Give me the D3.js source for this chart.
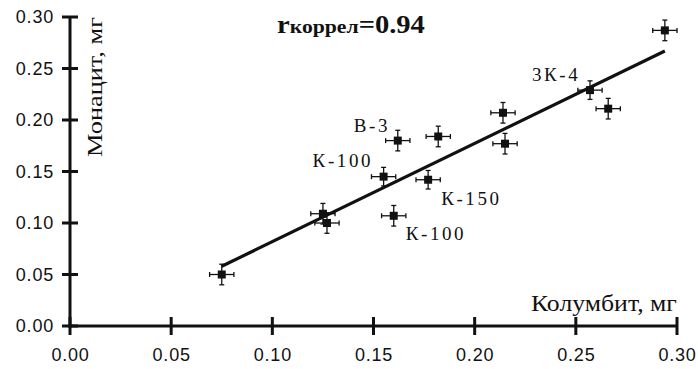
<!DOCTYPE html>
<html><head><meta charset="utf-8">
<script src="https://cdn.jsdelivr.net/npm/d3@7"></script>
<style>body{margin:0;background:#fff}svg{display:block}</style>
</head><body>
<script>
const colX = [0.075, 0.125, 0.127, 0.155, 0.162, 0.182, 0.214, 0.215, 0.257, 0.266, 0.294, 0.177, 0.160];
const monY = [0.050, 0.109, 0.100, 0.145, 0.180, 0.184, 0.207, 0.177, 0.229, 0.211, 0.287, 0.142, 0.107];
const errX = [0.006, 0.006, 0.006, 0.006, 0.006, 0.006, 0.006, 0.006, 0.006, 0.006, 0.006, 0.006, 0.006];
const errY = [0.010, 0.010, 0.010, 0.009, 0.010, 0.010, 0.010, 0.010, 0.009, 0.010, 0.010, 0.009, 0.010];
const fitX = [0.075, 0.294];
const fitY = [0.058, 0.267];
const tickVals = [0, 0.05, 0.10, 0.15, 0.20, 0.25, 0.30];
const labelText = ["К-100", "В-3", "К-150", "К-100", "3К-4"];
const labelPoint = [3, 4, 11, 12, 8];
const labelDx = [-71, -44, 13, 12, -58];
const labelDy = [-10, -9, 25, 24, -9];

const W = 698, H = 369;
const serif = "'Liberation Serif', 'Times New Roman', serif";
const svg = d3.select("body").append("svg").attr("width", W).attr("height", H);
const x = d3.scaleLinear().domain([0, 0.30]).range([70, 677]);
const y = d3.scaleLinear().domain([0, 0.30]).range([326, 17]);

function fitWidth(sel, ax, w) {
  const n = sel.node();
  const cur = n.getComputedTextLength ? n.getComputedTextLength() : n.getBBox().width;
  const s = cur > 0 ? w / cur : 1;
  const t = sel.attr("transform") || "";
  sel.attr("transform", `${t} translate(${ax},0) scale(${s},1) translate(${-ax},0)`);
}

// axes (labels only), axis lines and ticks drawn as filled rects from the same scales
const fmt = d3.format(".2f");
const gx = svg.append("g").attr("transform", `translate(0,${y(0)})`)
  .call(d3.axisBottom(x).tickValues(tickVals).tickFormat(fmt).tickSize(0).tickSizeOuter(0).tickPadding(22));
const gy = svg.append("g").attr("transform", `translate(${x(0)},0)`)
  .call(d3.axisLeft(y).tickValues(tickVals).tickFormat(fmt).tickSize(0).tickSizeOuter(0).tickPadding(16));
[gx, gy].forEach(g => {
  g.select(".domain").remove();
  g.selectAll("text").attr("font-family", "'Liberation Sans', Arial, sans-serif")
    .attr("font-size", 18).attr("fill", "#111").attr("letter-spacing", 0.8);
});
const ax = svg.append("g").attr("fill", "#111");
ax.append("rect").attr("x", x(0) - 1.5).attr("y", y(0.30)).attr("width", 3).attr("height", y(0) - y(0.30) + 1.5);
ax.append("rect").attr("x", x(0) - 1.5).attr("y", y(0) - 1.5).attr("width", x(0.30) - x(0) + 1.5).attr("height", 3);
ax.selectAll("rect.xt").data(tickVals).join("rect").attr("class", "xt")
  .attr("x", d => x(d) - 1.5).attr("y", y(0) - 9).attr("width", 3).attr("height", 18);
ax.selectAll("rect.yt").data(tickVals).join("rect").attr("class", "yt")
  .attr("x", x(0) - 8).attr("y", d => y(d) - 1.5).attr("width", 16).attr("height", 3);

// fit line
svg.append("line")
  .attr("x1", x(fitX[0])).attr("y1", y(fitY[0]))
  .attr("x2", x(fitX[1])).attr("y2", y(fitY[1]))
  .attr("stroke", "#111").attr("stroke-width", 3.2);

// points with error bars
const pts = colX.map((v, i) => ({x: v, y: monY[i], ex: errX[i], ey: errY[i]}));
const g = svg.append("g").attr("stroke", "#111").attr("stroke-width", 1.3);
pts.forEach(p => {
  const cx = x(p.x), cy = y(p.y);
  const x1 = x(p.x - p.ex), x2 = x(p.x + p.ex);
  const y1 = y(p.y - p.ey), y2 = y(p.y + p.ey);
  g.append("line").attr("x1", x1).attr("x2", x2).attr("y1", cy).attr("y2", cy);
  g.append("line").attr("x1", cx).attr("x2", cx).attr("y1", y1).attr("y2", y2);
  g.append("line").attr("x1", x1).attr("x2", x1).attr("y1", cy - 2.5).attr("y2", cy + 2.5);
  g.append("line").attr("x1", x2).attr("x2", x2).attr("y1", cy - 2.5).attr("y2", cy + 2.5);
  g.append("line").attr("x1", cx - 2.5).attr("x2", cx + 2.5).attr("y1", y1).attr("y2", y1);
  g.append("line").attr("x1", cx - 2.5).attr("x2", cx + 2.5).attr("y1", y2).attr("y2", y2);
  g.append("rect").attr("x", cx - 4).attr("y", cy - 4).attr("width", 8).attr("height", 8)
    .attr("fill", "#111").attr("stroke", "none");
});

// point labels
labelText.forEach((t, i) => {
  const p = pts[labelPoint[i]];
  svg.append("text").attr("x", x(p.x) + labelDx[i]).attr("y", y(p.y) + labelDy[i])
    .attr("font-family", serif).attr("font-size", 19)
    .attr("letter-spacing", 2.6).attr("fill", "#111").text(t);
});

// correlation
const rt = svg.append("text").attr("x", 277).attr("y", 33)
  .attr("font-family", serif).attr("font-weight", "bold").attr("fill", "#111");
rt.append("tspan").attr("font-size", 25).text("r");
rt.append("tspan").attr("font-size", 19).text("коррел");
rt.append("tspan").attr("font-size", 25).text("=0.94");
fitWidth(rt, 277, 148);

// axis titles
const xt = svg.append("text").attr("x", 531).attr("y", 311)
  .attr("font-family", serif).attr("font-size", 22.5).attr("fill", "#111")
  .text("Колумбит, мг");
fitWidth(xt, 531, 146);
const yt = svg.append("text").attr("x", 0).attr("y", 0)
  .attr("font-family", serif).attr("font-size", 22).attr("fill", "#111")
  .text("Монацит, мг");
yt.attr("transform", "translate(102,157) rotate(-90)");
fitWidth(yt, 0, 140);
</script>
</body></html>
